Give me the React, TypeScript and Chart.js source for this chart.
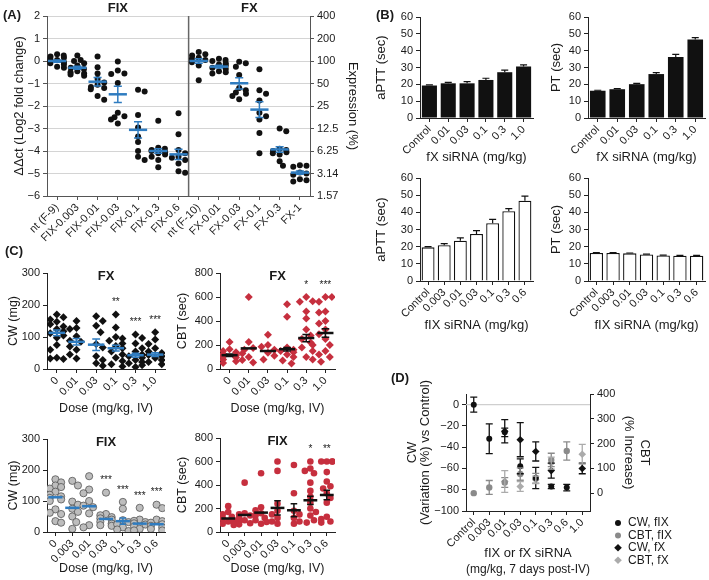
import React, { useEffect, useRef } from 'react';
import { Chart, registerables } from 'chart.js';
Chart.register(...registerables);

const FONT = "'Liberation Sans', Arial, sans-serif";
Chart.defaults.font.family = FONT;
Chart.defaults.color = '#1a1a1a';

// ---------------- Panel A ----------------
const A_CATS = ['nt (F-9)', 'FIX-0.003', 'FIX-0.01', 'FIX-0.03', 'FIX-0.1', 'FIX-0.3', 'FIX-0.6', 'nt (F-10)', 'FX-0.01', 'FX-0.03', 'FX-0.1', 'FX-0.3', 'FX-1'];
const A_DOTS = [
  [0.3, 0.25, 0.2, 0.15, 0.1, 0.05, 0, -0.05, -0.1, -0.15, -0.25, -0.3],
  [0.25, 0.05, 0, -0.1, -0.2, -0.3, -0.35, -0.45, -0.5, -0.55, -0.6, -0.65],
  [0.2, -0.28, -0.55, -0.8, -0.95, -1.05, -1.15, -1.2, -1.25, -1.55, -1.72],
  [-0.02, -0.42, -0.55, -0.58, -0.98, -2.3, -2.45, -2.5, -2.6, -2.78],
  [-1.28, -1.35, -2.4, -2.95, -3.35, -3.6, -4.0, -4.25, -4.4],
  [-2.65, -3.85, -3.9, -3.95, -4.0, -4.05, -4.1, -4.15, -4.25, -4.4, -4.72],
  [-2.32, -3.25, -3.95, -4.1, -4.25, -4.3, -4.4, -4.55, -4.9, -4.97],
  [0.4, 0.3, 0.25, 0.15, 0.1, 0.05, -0.05, -0.2, -0.85],
  [0.1, 0.05, 0, -0.1, -0.15, -0.2, -0.3, -0.35, -0.45, -0.5, -0.55],
  [-0.03, -0.1, -0.25, -0.62, -1.2, -1.3, -1.4, -1.45, -1.55, -1.7],
  [-0.37, -1.3, -1.45, -1.75, -2.3, -2.45, -2.6, -3.2, -4.1],
  [-3.0, -3.12, -3.9, -3.95, -4.0, -4.05, -4.1, -4.15, -4.45, -4.65],
  [-4.63, -4.66, -4.7, -4.95, -5.0, -5.05, -5.25, -5.3, -5.35],
];
const A_MEAN = [0, -0.3, -0.92, -1.48, -3.06, -4.0, -4.15, 0, -0.25, -0.99, -2.16, -3.93, -4.96];
const A_SEM = [0.05, 0.07, 0.19, 0.36, 0.36, 0.1, 0.23, 0.1, 0.06, 0.25, 0.35, 0.12, 0.07];
const A_Y_TICKS = [-6, -5, -4, -3, -2, -1, 0, 1, 2];
const A_EXPR_TICKS = ['1.57', '3.14', '6.25', '12.5', '25', '50', '100', '200', '400'];
const A_GROUPS = [{ name: 'FIX', from: 0, to: 6 }, { name: 'FX', from: 7, to: 12 }];

// ---------------- Panel B ----------------
const B_FX_CATS = ['Control', '0.01', '0.03', '0.1', '0.3', '1.0'];
const B_FIX_CATS = ['Control', '0.003', '0.01', '0.03', '0.1', '0.3', '0.6'];
const B_APTT_FX = [19.3, 20.6, 20.6, 22.6, 27.2, 30.6];
const B_APTT_FX_ERR = [0.4, 0.6, 1.0, 1.0, 1.3, 1.0];
const B_PT_FX = [16.2, 17.1, 20.1, 26.1, 36.3, 46.6];
const B_PT_FX_ERR = [0.3, 0.3, 0.5, 0.9, 1.5, 1.1];
const B_APTT_FIX = [19.6, 20.8, 23.5, 27.4, 33.6, 40.7, 46.8];
const B_APTT_FIX_ERR = [0.4, 1.0, 1.6, 1.9, 2.3, 1.5, 2.7];
const B_PT_FIX = [16.3, 16.3, 16.1, 15.4, 14.9, 14.7, 14.7];
const B_PT_FIX_ERR = [0.2, 0.2, 0.2, 0.2, 0.2, 0.2, 0.2];
const B_Y_TICKS = [0, 10, 20, 30, 40, 50, 60];

// ---------------- Panel C ----------------
const C_FX_CATS = ['0', '0.01', '0.03', '0.1', '0.3', '1.0'];
const C_FIX_CATS = ['0', '0.003', '0.01', '0.03', '0.1', '0.3', '0.6'];
const C_CW_FX = [
  [170, 162, 155, 148, 140, 133, 125, 118, 112, 105, 98, 75, 60, 35, 33, 31],
  [150, 128, 125, 102, 88, 85, 70, 60, 45, 33],
  [165, 150, 135, 115, 78, 67, 40, 28, 18, 10],
  [170, 130, 100, 95, 88, 80, 72, 65, 55, 45, 35, 25, 15, 8],
  [108, 97, 80, 65, 55, 45, 40, 35, 28, 22, 18, 12, 6],
  [115, 92, 78, 65, 55, 50, 44, 40, 34, 28, 22, 15],
];
const C_CW_FX_MEAN = [113, 85, 76, 65, 43, 45];
const C_CW_FX_SEM = [9, 10, 18, 9, 6, 6];
const C_CW_FX_STARS = ['', '', '', '**', '***', '***'];
const C_CBT_FX = [
  [225, 165, 150, 140, 125, 115, 105, 95, 80, 65, 50],
  [600, 225, 175, 160, 130, 100, 75, 55],
  [285, 200, 185, 160, 135, 110, 80],
  [540, 435, 180, 160, 150, 140, 120, 100, 70, 45],
  [600, 565, 560, 480, 420, 330, 280, 250, 220, 200, 180, 150, 100, 80],
  [600, 600, 560, 480, 470, 400, 380, 330, 290, 250, 200, 150, 120, 100, 60],
];
const C_CBT_FX_MEAN = [115, 172, 150, 165, 258, 300];
const C_CBT_FX_SEM = [10, 0, 0, 14, 30, 35];
const C_CBT_FX_STARS = ['', '', '', '', '*', '***'];
const C_CW_FIX = [
  [170, 160, 150, 145, 140, 130, 120, 115, 110, 105, 100, 73, 62, 58, 35, 30],
  [165, 150, 98, 88, 75, 65, 50, 32, 10],
  [180, 137, 125, 100, 85, 80, 60, 22, 15],
  [127, 58, 54, 48, 44, 40, 33, 27, 22, 20],
  [97, 75, 38, 32, 25, 15, 8, 3],
  [78, 40, 36, 32, 28, 24, 18, 10, 5],
  [88, 77, 40, 35, 30, 25, 20, 15, 10, 5],
];
const C_CW_FIX_MEAN = [112, 78, 83, 42, 35, 27, 25];
const C_CW_FIX_SEM = [0, 0, 0, 0, 10, 0, 0];
const C_CW_FIX_STARS = ['', '', '', '***', '***', '***', '***'];
const C_CBT_FIX = [
  [220, 170, 150, 130, 115, 100, 90, 80, 70, 60],
  [420, 160, 150, 140, 120, 100, 90, 75, 65],
  [500, 210, 185, 160, 140, 120, 100, 85, 70],
  [600, 520, 240, 180, 150, 120, 90, 70],
  [570, 330, 180, 150, 120, 90, 70],
  [600, 540, 520, 500, 420, 350, 300, 250, 200, 170, 140, 100, 80],
  [600, 600, 600, 600, 510, 430, 390, 370, 330, 290, 250, 130, 110, 90, 80],
];
const C_CBT_FIX_MEAN = [115, 145, 165, 205, 185, 270, 315];
const C_CBT_FIX_SEM = [0, 0, 0, 60, 55, 35, 40];
const C_CBT_FIX_STARS = ['', '', '', '', '', '*', '**'];
const C_CW_TICKS = [0, 100, 200, 300];
const C_CBT_TICKS = [0, 200, 400, 600, 800];

// ---------------- Panel D ----------------
const D_CATS = ['Control', '0.003', '0.01', '0.03', '0.1', '0.3', '0.6', '1.0'];
const D_CW_FIX = [0, -32, -26, -58, -69, -77, -78, null];
const D_CW_FIX_ERR = [7, 14, 4, 7, 10, 2, 3, null];
const D_CBT_FIX = [0, 23, 43, 77, 60, 134, 170, null];
const D_CBT_FIX_ERR = [0, 28, 20, 25, 20, 27, 37, null];
const D_CW_FX = [null, null, -25, -33, -44, -62, null, -60];
const D_CW_FX_ERR = [null, null, 11, 16, 9, 7, null, 5];
const D_CBT_FX = [null, null, 47, 27, 54, 121, null, 157];
const D_CBT_FX_ERR = [null, null, 44, 20, 15, 24, null, 40];
const D_LEFT_TICKS = [-100, -80, -60, -40, -20, 0];
const D_RIGHT_TICKS = [0, 100, 200, 300, 400];
const D_SERIES = ['CW, fIX', 'CBT, fIX', 'CW, fX', 'CBT, fX'];

// ---------------- helpers ----------------
const TXT = '#1a1a1a';
const BLUE = '#2f7cc0';
const RED = '#c62f3e';
const TICK_FONT = { family: FONT, size: 11 };
const TITLE_FONT = { family: FONT, size: 13 };
const minus = (v: number) => String(v).replace('-', '\u2212');

function swarm(vals: number[], pxPerUnit: number, catPx: number, r: number, maxOff = 0.42): number[] {
  const order = vals.map((_, i) => i).sort((a, b) => vals[b] - vals[a]);
  const placed: { x: number; y: number }[] = [];
  const out = new Array(vals.length).fill(0);
  const minD = 2 * r * 0.85;
  const lim = maxOff * catPx;
  for (const i of order) {
    const py = vals[i] * pxPerUnit;
    let best = 0;
    let found = false;
    for (let k = 0; k < 40; k++) {
      const cand = Math.ceil(k / 2) * r * 1.1 * (k % 2 === 1 ? 1 : -1);
      if (Math.abs(cand) > lim) continue;
      if (placed.every((p) => Math.hypot(p.x - cand, p.y - py) >= minD)) { best = cand; found = true; break; }
    }
    if (!found) best = (placed.length % 2 ? 1 : -1) * lim * 0.8;
    placed.push({ x: best, y: py });
    out[i] = best / catPx;
  }
  return out;
}

function yAxis(o: any) {
  const axis = o.axisColor || '#222';
  return {
    type: 'linear',
    position: o.position || 'left',
    min: o.min,
    max: o.max,
    afterBuildTicks: (s: any) => { s.ticks = o.ticks.map((v: number) => ({ value: v })); },
    afterFit: (s: any) => { s.width = o.width; s.paddingTop = 0; s.paddingBottom = 0; },
    ticks: { font: TICK_FONT, color: TXT, padding: 3, callback: o.fmt || ((v: number) => minus(v)) },
    grid: { display: true, drawOnChartArea: !!o.grid, color: '#d4d4d4', tickColor: axis, tickLength: 4, lineWidth: 1 },
    border: { display: true, color: axis, width: 1 },
    title: o.title
      ? { display: true, text: o.title, color: TXT, font: { ...TITLE_FONT, ...(o.titleFont || {}) }, padding: { top: o.titlePad || 0, bottom: 0 } }
      : { display: false },
  };
}

function xLinCat(o: any) {
  const axis = o.axisColor || '#222';
  return {
    type: 'linear',
    min: -0.5,
    max: o.cats.length - 0.5,
    afterBuildTicks: (s: any) => { s.ticks = o.cats.map((_: string, i: number) => ({ value: i })); },
    afterFit: (s: any) => { s.height = o.height; s.paddingLeft = 0; s.paddingRight = 0; },
    ticks: { font: TICK_FONT, color: TXT, autoSkip: false, minRotation: 45, maxRotation: 45, padding: 1, callback: (v: number) => o.cats[Math.round(v)] },
    grid: { display: true, drawOnChartArea: false, tickColor: axis, tickLength: 4 },
    border: { display: true, color: axis, width: 1 },
    title: o.title
      ? { display: true, text: o.title, color: TXT, font: { ...TITLE_FONT, ...(o.titleFont || {}) }, padding: { top: 0, bottom: o.titlePad || 0 } }
      : { display: false },
  };
}

function meanSemPlugin(means: number[], sems: number[], color: string, halfW: number, capW: number, lw: number) {
  return {
    id: 'meanSem',
    afterDatasetsDraw(chart: any) {
      const { ctx, scales } = chart;
      const x = scales.x, y = scales.y;
      const cat = Math.abs(x.getPixelForValue(1) - x.getPixelForValue(0));
      ctx.save();
      ctx.strokeStyle = color;
      means.forEach((m, i) => {
        const cx = x.getPixelForValue(i);
        const ym = y.getPixelForValue(m);
        ctx.lineWidth = lw;
        ctx.beginPath(); ctx.moveTo(cx - halfW * cat, ym); ctx.lineTo(cx + halfW * cat, ym); ctx.stroke();
        const s = sems[i];
        if (s > 0) {
          const yt = y.getPixelForValue(m + s), yb = y.getPixelForValue(m - s);
          ctx.lineWidth = 1.5;
          ctx.beginPath();
          ctx.moveTo(cx, yt); ctx.lineTo(cx, yb);
          ctx.moveTo(cx - capW * cat, yt); ctx.lineTo(cx + capW * cat, yt);
          ctx.moveTo(cx - capW * cat, yb); ctx.lineTo(cx + capW * cat, yb);
          ctx.stroke();
        }
      });
      ctx.restore();
    },
  };
}

function starsPlugin(stars: string[], dots: number[][]) {
  return {
    id: 'stars',
    afterDraw(chart: any) {
      const { ctx, scales } = chart;
      ctx.save();
      ctx.fillStyle = TXT;
      ctx.font = `10px ${FONT}`;
      ctx.textAlign = 'center';
      ctx.textBaseline = 'middle';
      stars.forEach((s, i) => {
        if (!s) return;
        const top = scales.y.getPixelForValue(Math.max(...dots[i]));
        ctx.fillText(s, scales.x.getPixelForValue(i), top - 12);
      });
      ctx.restore();
    },
  };
}

function headPlugin(items: { text: string; at: number }[], dy: number) {
  return {
    id: 'head',
    afterDraw(chart: any) {
      const { ctx, scales, chartArea } = chart;
      ctx.save();
      ctx.fillStyle = TXT;
      ctx.font = `bold 13px ${FONT}`;
      ctx.textAlign = 'center';
      ctx.textBaseline = 'middle';
      items.forEach((it) => ctx.fillText(it.text, scales.x.getPixelForValue(it.at), chartArea.top + dy));
      ctx.restore();
    },
  };
}

const BASE_OPTS = {
  responsive: false,
  animation: false,
  events: [],
  plugins: { legend: { display: false }, tooltip: { enabled: false }, title: { display: false } },
};

function scatterPanel(p: any) {
  const data = p.dots.flatMap((vals: number[], i: number) => {
    const offs = swarm(vals, p.pxPerUnit, p.catPx, p.r);
    return vals.map((v, j) => ({ x: i + offs[j], y: v }));
  });
  return {
    type: 'scatter',
    data: {
      datasets: [{
        data,
        pointStyle: p.pointStyle,
        pointRadius: p.r,
        pointHoverRadius: p.r,
        backgroundColor: p.fill,
        borderColor: p.stroke,
        borderWidth: p.bw,
      }],
    },
    options: {
      ...BASE_OPTS,
      layout: { padding: p.padding },
      scales: {
        x: xLinCat({ cats: p.cats, height: p.xHeight, title: p.xTitle, titlePad: p.xTitlePad, titleFont: { size: 12.5 } }),
        y: yAxis({ min: p.yMin, max: p.yMax, ticks: p.yTicks, width: p.yWidth, title: p.yTitle, titlePad: p.yTitlePad, titleFont: { size: 12.5 } }),
      },
    },
    plugins: [
      meanSemPlugin(p.means, p.sems, p.meanColor, 0.42, 0.2, 2.5),
      starsPlugin(p.stars, p.dots),
      headPlugin([{ text: p.head, at: (p.cats.length - 1) / 2 }], 3),
    ],
  };
}

function barErrPlugin(errs: number[], color: string) {
  return {
    id: 'barErr',
    afterDatasetsDraw(chart: any) {
      const { ctx, scales } = chart;
      const vals = chart.data.datasets[0].data as number[];
      ctx.save();
      ctx.strokeStyle = color;
      ctx.lineWidth = 1.2;
      vals.forEach((v, i) => {
        const cx = scales.x.getPixelForValue(i);
        const y0 = scales.y.getPixelForValue(v);
        const y1 = scales.y.getPixelForValue(v + errs[i]);
        ctx.beginPath();
        ctx.moveTo(cx, y0); ctx.lineTo(cx, y1);
        ctx.moveTo(cx - 3.5, y1); ctx.lineTo(cx + 3.5, y1);
        ctx.stroke();
      });
      ctx.restore();
    },
  };
}

function barPanel(p: any) {
  return {
    type: 'bar',
    data: {
      labels: p.cats,
      datasets: [{
        data: p.values,
        backgroundColor: p.filled ? '#111' : '#fff',
        borderColor: '#111',
        borderWidth: p.filled ? 0 : 1.3,
        barPercentage: 0.8,
        categoryPercentage: 1.0,
      }],
    },
    options: {
      ...BASE_OPTS,
      layout: { padding: p.padding },
      scales: {
        x: {
          type: 'category',
          offset: true,
          afterFit: (s: any) => { s.height = p.xHeight; s.paddingLeft = 0; s.paddingRight = 0; },
          ticks: { font: TICK_FONT, color: TXT, autoSkip: false, minRotation: 45, maxRotation: 45, padding: 1 },
          grid: { display: true, offset: false, drawOnChartArea: false, tickColor: '#222', tickLength: 4 },
          border: { display: true, color: '#222' },
          title: { display: true, text: p.xTitle, color: TXT, font: TITLE_FONT, padding: { top: 0, bottom: p.xTitlePad } },
        },
        y: yAxis({ min: 0, max: 60, ticks: B_Y_TICKS, width: p.yWidth, title: p.yTitle, titlePad: p.yTitlePad }),
      },
    },
    plugins: [barErrPlugin(p.errs, '#111')],
  };
}

// ---------------- chart configs ----------------
function configA() {
  const data = A_DOTS.flatMap((vals, i) => {
    const offs = swarm(vals, 22.5, 20.2, 3);
    return vals.map((v, j) => ({ x: i + offs[j], y: v }));
  });
  return {
    type: 'scatter',
    data: { datasets: [{ data, pointRadius: 3, pointHoverRadius: 3, backgroundColor: '#111', borderWidth: 0 }] },
    options: {
      ...BASE_OPTS,
      layout: { padding: { top: 16, left: 0, right: 0, bottom: 0 } },
      scales: {
        x: xLinCat({ cats: A_CATS, height: 104, axisColor: '#555' }),
        y: yAxis({ min: -6, max: 2, ticks: A_Y_TICKS, width: 47, grid: true, axisColor: '#555', title: '\u0394\u0394ct (Log2 fold change)', titlePad: 12 }),
        y2: yAxis({
          position: 'right', min: -6, max: 2, ticks: A_Y_TICKS, width: 50, axisColor: '#555',
          fmt: (v: number) => A_EXPR_TICKS[A_Y_TICKS.indexOf(v)], title: 'Expression (%)', titlePad: 0,
        }),
      },
    },
    plugins: [
      {
        id: 'divider',
        beforeDatasetsDraw(chart: any) {
          const { ctx, chartArea, scales } = chart;
          const px = scales.x.getPixelForValue((A_GROUPS[0].to + A_GROUPS[1].from) / 2);
          ctx.save();
          ctx.strokeStyle = '#666';
          ctx.lineWidth = 1.5;
          ctx.beginPath(); ctx.moveTo(px, chartArea.top); ctx.lineTo(px, chartArea.bottom); ctx.stroke();
          ctx.restore();
        },
      },
      meanSemPlugin(A_MEAN, A_SEM, BLUE, 0.45, 0.2, 2.5),
      headPlugin(A_GROUPS.map((g) => ({ text: g.name, at: (g.from + g.to) / 2 })), -8),
    ],
  };
}

const configB1 = () => barPanel({ cats: B_FX_CATS, values: B_APTT_FX, errs: B_APTT_FX_ERR, filled: true, padding: { top: 17, right: 2, left: 0, bottom: 0 }, xHeight: 52, xTitle: 'fX siRNA (mg/kg)', xTitlePad: 5, yWidth: 60, yTitle: 'aPTT (sec)', yTitlePad: 14 });
const configB2 = () => barPanel({ cats: B_FX_CATS, values: B_PT_FX, errs: B_PT_FX_ERR, filled: true, padding: { top: 17, right: 4, left: 0, bottom: 0 }, xHeight: 52, xTitle: 'fX siRNA (mg/kg)', xTitlePad: 5, yWidth: 58, yTitle: 'PT (sec)', yTitlePad: 19 });
const configB3 = () => barPanel({ cats: B_FIX_CATS, values: B_APTT_FIX, errs: B_APTT_FIX_ERR, filled: false, padding: { top: 18, right: 2, left: 0, bottom: 0 }, xHeight: 54, xTitle: 'fIX siRNA (mg/kg)', xTitlePad: 2, yWidth: 60, yTitle: 'aPTT (sec)', yTitlePad: 14 });
const configB4 = () => barPanel({ cats: B_FIX_CATS, values: B_PT_FIX, errs: B_PT_FIX_ERR, filled: false, padding: { top: 18, right: 4, left: 0, bottom: 0 }, xHeight: 54, xTitle: 'fIX siRNA (mg/kg)', xTitlePad: 2, yWidth: 58, yTitle: 'PT (sec)', yTitlePad: 19 });

const configC1 = () => scatterPanel({
  cats: C_FX_CATS, dots: C_CW_FX, means: C_CW_FX_MEAN, sems: C_CW_FX_SEM, stars: C_CW_FX_STARS, head: 'FX',
  pointStyle: 'rectRot', r: 4, fill: '#111', stroke: '#111', bw: 0, meanColor: BLUE,
  pxPerUnit: 0.32, catPx: 19.7, yMin: 0, yMax: 300, yTicks: C_CW_TICKS,
  padding: { top: 18, right: 5, left: 0, bottom: 0 }, xHeight: 51, xTitle: 'Dose (mg/kg, IV)', xTitlePad: 4,
  yWidth: 47, yTitle: 'CW (mg)', yTitlePad: 6,
});
const configC2 = () => scatterPanel({
  cats: C_FX_CATS, dots: C_CBT_FX, means: C_CBT_FX_MEAN, sems: C_CBT_FX_SEM, stars: C_CBT_FX_STARS, head: 'FX',
  pointStyle: 'rectRot', r: 4, fill: RED, stroke: RED, bw: 0, meanColor: '#111',
  pxPerUnit: 0.12, catPx: 19.2, yMin: 0, yMax: 800, yTicks: C_CBT_TICKS,
  padding: { top: 18, right: 5, left: 0, bottom: 0 }, xHeight: 51, xTitle: 'Dose (mg/kg, IV)', xTitlePad: 4,
  yWidth: 50, yTitle: 'CBT (sec)', yTitlePad: 5,
});
const configC3 = () => scatterPanel({
  cats: C_FIX_CATS, dots: C_CW_FIX, means: C_CW_FIX_MEAN, sems: C_CW_FIX_SEM, stars: C_CW_FIX_STARS, head: 'FIX',
  pointStyle: 'circle', r: 3.6, fill: '#bdbdbd', stroke: '#555', bw: 0.8, meanColor: BLUE,
  pxPerUnit: 0.31, catPx: 16.9, yMin: 0, yMax: 300, yTicks: C_CW_TICKS,
  padding: { top: 19, right: 5, left: 0, bottom: 0 }, xHeight: 48, xTitle: 'Dose (mg/kg, IV)', xTitlePad: 4,
  yWidth: 47, yTitle: 'CW (mg)', yTitlePad: 6,
});
const configC4 = () => scatterPanel({
  cats: C_FIX_CATS, dots: C_CBT_FIX, means: C_CBT_FIX_MEAN, sems: C_CBT_FIX_SEM, stars: C_CBT_FIX_STARS, head: 'FIX',
  pointStyle: 'circle', r: 3.3, fill: RED, stroke: RED, bw: 0, meanColor: '#111',
  pxPerUnit: 0.1175, catPx: 16.4, yMin: 0, yMax: 800, yTicks: C_CBT_TICKS,
  padding: { top: 18, right: 5, left: 0, bottom: 0 }, xHeight: 48, xTitle: 'Dose (mg/kg, IV)', xTitlePad: 4,
  yWidth: 50, yTitle: 'CBT (sec)', yTitlePad: 5,
});

function dPoints(vals: (number | null)[], errs: (number | null)[]) {
  return vals.map((v, i) => (v == null ? null : { x: i, y: v, e: errs[i] || 0 })).filter(Boolean);
}

function configD() {
  const ds = (label: string, vals: any, errs: any, axis: string, color: string, style: string, r: number) => ({
    label, data: dPoints(vals, errs), yAxisID: axis, pointStyle: style, pointRadius: r, pointHoverRadius: r,
    backgroundColor: color, borderColor: color, borderWidth: 0,
  });
  return {
    type: 'scatter',
    data: {
      datasets: [
        ds(D_SERIES[0], D_CW_FIX, D_CW_FIX_ERR, 'y', '#111', 'circle', 3),
        ds(D_SERIES[1], D_CBT_FIX, D_CBT_FIX_ERR, 'y1', '#8a8a8a', 'circle', 3.2),
        ds(D_SERIES[2], D_CW_FX, D_CW_FX_ERR, 'y', '#111', 'rectRot', 3.8),
        ds(D_SERIES[3], D_CBT_FX, D_CBT_FX_ERR, 'y1', '#ababab', 'rectRot', 3.8),
      ],
    },
    options: {
      ...BASE_OPTS,
      layout: { padding: { top: 19, right: 49, left: 0, bottom: 0 } },
      scales: {
        x: xLinCat({ cats: D_CATS, height: 69, title: ['fIX or fX siRNA', '(mg/kg, 7 days post-IV)'], titlePad: 2.6, titleFont: { lineHeight: 1.25 } }),
        y: yAxis({ min: -100, max: 10, ticks: D_LEFT_TICKS, width: 86, title: ['CW', '(Variation (%) vs Control)'], titlePad: 25.5, titleFont: { lineHeight: 1.0 } }),
        y1: yAxis({ position: 'right', min: -72, max: 400, ticks: D_RIGHT_TICKS, width: 70, title: ['CBT', '(% Increase)'], titlePad: 7, titleFont: { lineHeight: 1.25 } }),
      },
    },
    plugins: [
      {
        id: 'zeroLine',
        beforeDatasetsDraw(chart: any) {
          const { ctx, chartArea, scales } = chart;
          const py = scales.y.getPixelForValue(0);
          ctx.save();
          ctx.strokeStyle = '#cfcfcf';
          ctx.lineWidth = 1.2;
          ctx.beginPath(); ctx.moveTo(chartArea.left, py); ctx.lineTo(chartArea.right, py); ctx.stroke();
          ctx.restore();
        },
      },
      {
        id: 'dErr',
        afterDatasetsDraw(chart: any) {
          const { ctx, scales } = chart;
          ctx.save();
          chart.data.datasets.forEach((d: any) => {
            const ys = scales[d.yAxisID];
            ctx.strokeStyle = d.borderColor;
            ctx.lineWidth = 1.3;
            d.data.forEach((p: any) => {
              if (!p.e) return;
              const cx = scales.x.getPixelForValue(p.x);
              const yt = ys.getPixelForValue(p.y + p.e), yb = ys.getPixelForValue(p.y - p.e);
              ctx.beginPath();
              ctx.moveTo(cx, yt); ctx.lineTo(cx, yb);
              ctx.moveTo(cx - 3.5, yt); ctx.lineTo(cx + 3.5, yt);
              ctx.moveTo(cx - 3.5, yb); ctx.lineTo(cx + 3.5, yb);
              ctx.stroke();
            });
          });
          ctx.restore();
        },
      },
      {
        id: 'dLegend',
        afterDraw(chart: any) {
          const { ctx, chartArea } = chart;
          ctx.save();
          ctx.font = `12px ${FONT}`;
          ctx.textBaseline = 'middle';
          ctx.textAlign = 'left';
          chart.data.datasets.forEach((d: any, i: number) => {
            const mx = chartArea.right + 28;
            const my = chartArea.bottom + 12 + i * 12.4;
            ctx.fillStyle = d.backgroundColor;
            ctx.beginPath();
            if (d.pointStyle === 'circle') {
              ctx.arc(mx, my, 3, 0, Math.PI * 2);
            } else {
              ctx.moveTo(mx - 3.8, my); ctx.lineTo(mx, my - 3.8); ctx.lineTo(mx + 3.8, my); ctx.lineTo(mx, my + 3.8); ctx.closePath();
            }
            ctx.fill();
            ctx.fillStyle = TXT;
            ctx.fillText(d.label, mx + 10, my);
          });
          ctx.restore();
        },
      },
    ],
  };
}

// ---------------- components ----------------
function ChartCanvas({ box, make }: { box: number[]; make: () => any }) {
  const ref = useRef<HTMLCanvasElement>(null);
  useEffect(() => {
    const chart = new Chart(ref.current as HTMLCanvasElement, make());
    return () => chart.destroy();
  }, []);
  const [l, t, w, h] = box;
  return <canvas ref={ref} width={w} height={h} style={{ position: 'absolute', left: l, top: t, width: w, height: h }} />;
}

function Letter({ text, left, top }: { text: string; left: number; top: number }) {
  return (
    <div style={{ position: 'absolute', left, top, font: `bold 13px ${FONT}`, lineHeight: '13px', color: TXT }}>{text}</div>
  );
}

export default function App() {
  return (
    <div style={{ position: 'fixed', left: 0, top: 0, width: 709, height: 580, background: '#fff', overflow: 'hidden' }}>
      <ChartCanvas box={[0, 0, 360, 300]} make={configA} />
      <ChartCanvas box={[360, 0, 175, 170]} make={configB1} />
      <ChartCanvas box={[530, 0, 179, 170]} make={configB2} />
      <ChartCanvas box={[360, 160, 175, 175]} make={configB3} />
      <ChartCanvas box={[530, 160, 179, 175]} make={configB4} />
      <ChartCanvas box={[0, 255, 170, 165]} make={configC1} />
      <ChartCanvas box={[170, 255, 170, 165]} make={configC2} />
      <ChartCanvas box={[0, 420, 170, 160]} make={configC3} />
      <ChartCanvas box={[170, 420, 170, 160]} make={configC4} />
      <ChartCanvas box={[380, 375, 329, 205]} make={configD} />
      <Letter text="(A)" left={3} top={8} />
      <Letter text="(B)" left={376} top={8} />
      <Letter text="(C)" left={5} top={244} />
      <Letter text="(D)" left={391} top={371} />
    </div>
  );
}
